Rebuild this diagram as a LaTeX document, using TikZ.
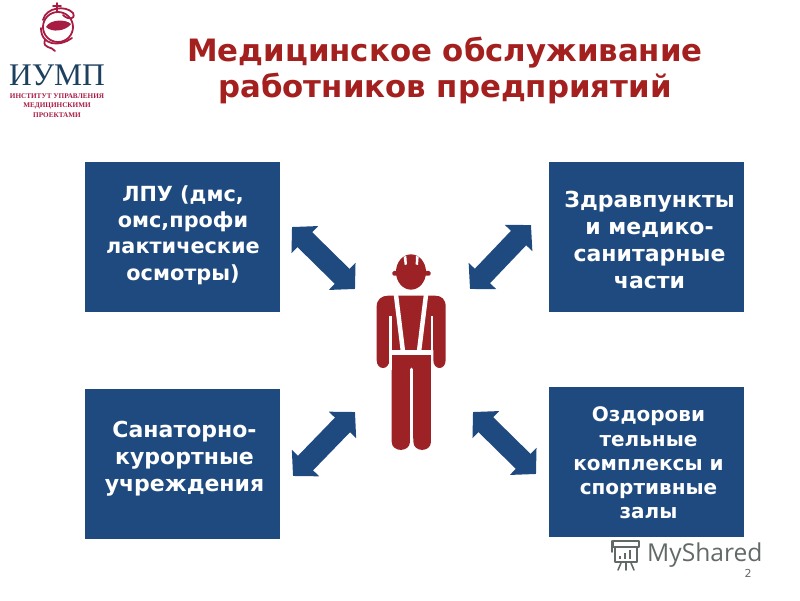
\documentclass[tikz,border=0pt]{standalone}
\usepackage{fontspec}
\setmainfont{DejaVu Sans}
\newfontfamily\logofont{Liberation Serif}
\newfontfamily\markfont{Open Sans}
\usetikzlibrary{arrows.meta}
\definecolor{boxblue}{HTML}{1F4A7F}
\definecolor{darkred}{HTML}{9C2226}
\definecolor{titlered}{HTML}{A3201F}
\definecolor{logored}{HTML}{A81C44}
\definecolor{logoblue}{HTML}{1D405F}
\definecolor{markgray}{HTML}{616A67}
\tikzset{
	blockbox/.style={fill=boxblue, minimum width=195pt, minimum height=150pt, inner sep=0pt, anchor=north west},
	blocktext/.style={text=white, align=center, inner sep=0pt},
	blockarrow/.style={draw=boxblue, line width=21pt, line cap=butt, {Triangle[length=18pt,width=37pt]}-{Triangle[length=18pt,width=37pt]}},
	titletext/.style={text=titlered, font=\fontsize{30.8}{36}\selectfont\bfseries, align=center},
	logosmall/.style={text=logored, font=\logofont\fontsize{7.2}{9.5}\selectfont\bfseries, align=center},
}
\begin{document}
\begin{tikzpicture}[x=1pt,y=-1pt,line join=round,line cap=round]
	\useasboundingbox (0,0) rectangle (800,600);
	\node[titletext] (title) at (445,70) {Медицинское обслуживание\\работников предприятий};

	% logo
	\draw[logored,line width=1.8pt] (58,27) circle (15);
	\draw[logored,line width=1.8pt] (43,20)..controls (46,7) and (66,5) ..(73,13)..controls (76,20) and (68,20) ..(63,15);
	\draw[logored,line width=1.8pt] (57,3)--(57,12) (53,6)--(61,6);
	\draw[logored,line width=1.8pt] (41,28)..controls (41,46) and (60,47) ..(72,38) (45,40)..controls (42,49) and (52,46) ..(55,51);
	\fill[logored] (46,27)..controls (50,19) and (66,19) ..(71,24)..controls (66,31) and (52,33) ..(46,27)--cycle;
	\node[text=logoblue,font=\logofont\fontsize{31.5}{32}\selectfont,inner sep=0pt] (logoname) at (57,75) {ИУМП};
	\node[logosmall,inner sep=0pt] (logotext) at (57,105.5) {ИНСТИТУТ УПРАВЛЕНИЯ\\МЕДИЦИНСКИМИ\\ПРОЕКТАМИ};

	% boxes
	\node[blockbox] (lpu) at (85,162) {};
	\node[blockbox] (zdrav) at (549,162) {};
	\node[blockbox] (sanat) at (85,389) {};
	\node[blockbox] (ozdor) at (549,387) {};
	\node[blocktext,font=\fontsize{20.8}{26.3}\selectfont\bfseries] (lputext) at (183,235) {ЛПУ (дмс,\\омс,профи\\лактические\\осмотры)};
	\node[blocktext,font=\fontsize{22}{26.7}\selectfont\bfseries] (zdravtext) at (649.5,240) {Здравпункты\\и медико-\\санитарные\\части};
	\node[blocktext,font=\fontsize{22}{27}\selectfont\bfseries] (sanattext) at (184.5,458.5) {Санаторно-\\курортные\\учреждения};
	\node[blocktext,font=\fontsize{20}{24.2}\selectfont\bfseries] (ozdortext) at (648.5,463) {Оздорови\\тельные\\комплексы и\\спортивные\\залы};

	% arrows
	\coordinate (a1) at (292,227);
	\coordinate (b1) at (355,289);
	\coordinate (a2) at (531,225);
	\coordinate (b2) at (470,289);
	\coordinate (a3) at (355,412);
	\coordinate (b3) at (293,476);
	\coordinate (a4) at (473,412);
	\coordinate (b4) at (536,474);
	\draw[blockarrow] (a1)--(b1);
	\draw[blockarrow] (a2)--(b2);
	\draw[blockarrow] (a3)--(b3);
	\draw[blockarrow] (a4)--(b4);

	% worker
	\begin{scope}[shift={(280,210)},x=0.3333pt,y=-0.3333pt]
		\fill[darkred] (393,186) ellipse (45 and 53);
		\fill[darkred,rounded corners=1.5pt] (337,183)--(452,183)--(452,197)--(337,197)--cycle;
		\fill[white] (371,140)--(379,138)--(381,163)--(374,165)--cycle (408,138)--(416,140)--(414,165)--(407,163)--cycle;
		\fill[darkred] (290,450)--(290,290)..controls (290,268) and (305,257) ..(325,257)--(465,257)..controls (485,257) and (497,268) ..(497,290)--(497,450)..controls (497,482) and (460,482) ..(460,450)--(460,420)--(453,420)--(453,695)..controls (453,728) and (400,728) ..(400,695)--(395,475)--(390,695)..controls (390,728) and (335,728) ..(335,695)--(335,420)--(328,420)--(328,450)..controls (328,482) and (290,482) ..(290,450)--cycle;
		\draw[white,line width=2.4pt,line cap=butt] (332,318)--(332,480) (456,318)--(456,480);
		\draw[white,line width=4.5pt,line cap=butt] (348,255)--(369,425) (438,255)--(417,425);
		\draw[white,line width=5pt,line cap=butt] (328,427)--(460,427);
		\draw[white,line width=3.4pt,line cap=round] (395,478)--(395,730);
	\end{scope}

	% watermark
	\node[text=markgray,font=\markfont\fontsize{24.6}{25}\selectfont,inner sep=0pt,anchor=west] (myshared) at (647,555) {MyShared};
	\node[text=markgray,font=\fontsize{11}{11}\selectfont,inner sep=0pt] (pagenum) at (748,573) {2};
	\draw[markgray,line width=1.8pt] (613,541)--(639,541)--(639,547)--(613,547)--cycle (612,552)--(612,541) (615,548)--(615,562)--(637,562)--(637,548);
	\draw[markgray,line width=2.4pt,line cap=butt] (620,559)--(620,556) (625,559)--(625,553) (630,559)--(630,550);
	\draw[markgray,line width=1.6pt] (621,563)--(618,570) (626,563)--(626,570) (631,563)--(634,570);
\end{tikzpicture}
\end{document}
